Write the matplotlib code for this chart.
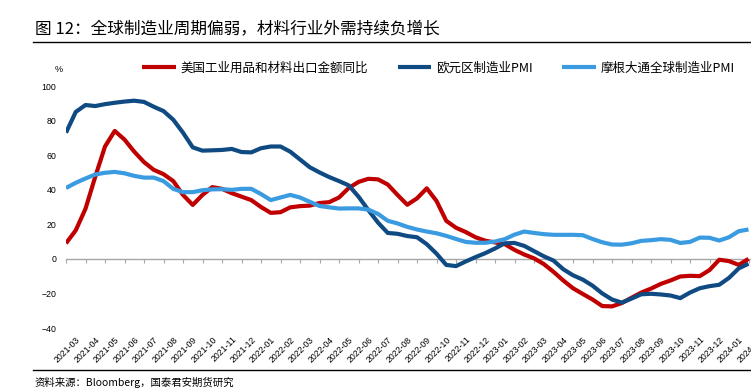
import numpy as np
import pandas as pd
import matplotlib
matplotlib.use("Agg")
import matplotlib.pyplot as plt
from matplotlib.lines import Line2D

plt.rcParams['font.family'] = ['Noto Sans CJK SC', 'DejaVu Sans']

months = [str(p) for p in pd.period_range('2021-03', '2024-02', freq='M')]

# readings every half month, from the start of 2021-03
us_export = [9, 16.5, 29, 47.5, 65, 74, 69, 62, 56, 51.5,
             49, 45, 37, 31.2, 37, 41.5, 40.5, 38, 36, 34,
             30, 26.6, 27, 29.8, 30.5, 30.8, 32.3, 32.8, 35.5, 41,
             44.5, 46.3, 46, 43, 37, 31.3, 35, 40.8, 33.5, 22,
             18, 15.5, 12.5, 10.5, 9.5, 8.5, 5.2, 2.5, 0.3, -3,
             -7.5, -12.5, -17, -20.3, -23.5, -27.3, -27.5, -25.6, -22.5, -19.5,
             -17.2, -14.5, -12.5, -10.2, -9.8, -10, -6.5, -0.5, -1.3, -3.5,
             0]
ez_pmi = [73, 85, 89, 88.4, 89.5, 90.3, 91, 91.5, 90.8, 88,
          85.5, 80.5, 73, 64.5, 62.6, 62.8, 63, 63.6, 61.8, 61.6,
          64, 65, 65, 62, 57.5, 53, 50, 47.3, 45, 42.5,
          36, 28.3, 21, 15, 14.5, 13.2, 12.5, 8.5, 3, -3.5,
          -4.2, -1.5, 1, 3.3, 6, 9, 9.2, 7.5, 4.5, 1.5,
          -1, -6, -9.5, -12, -15.5, -20, -23.5, -25.3, -23, -20.5,
          -20.2, -20.6, -21.2, -22.7, -19.5, -17, -15.8, -15, -11, -5.5,
          -2.8]
jpm_pmi = [41, 44, 46.5, 48.8, 49.8, 50.3, 49.5, 48, 47, 47,
           45, 40.5, 38.6, 38.6, 39.7, 40.2, 40.3, 39.9, 40.5, 40.5,
           37.5, 34, 35.5, 37, 35.5, 33, 30.6, 29.8, 29.1, 29.2,
           29.2, 28.5, 26, 22, 20.5, 18.5, 17, 15.8, 14.8, 13.3,
           11.5, 9.8, 9.3, 9.3, 10, 11.4, 14, 15.8, 15, 14.3,
           13.9, 13.9, 13.9, 13.7, 11.5, 9.6, 8.3, 8.2, 9, 10.4,
           10.8, 11.4, 11, 9.2, 9.8, 12.3, 12.2, 10.6, 12.5, 16,
           17]

names = ['美国工业用品和材料出口金额同比', '欧元区制造业PMI', '摩根大通全球制造业PMI']
colors = ['#C00000', '#0F4A82', '#3A9BE0']

W, H = 751, 390
fig = plt.figure(figsize=(W / 100, H / 100), dpi=100)


def box(x0, y0, x1, y1):
    return [x0 / W, 1 - y1 / H, (x1 - x0) / W, (y1 - y0) / H]


ax = fig.add_axes(box(66, 86, 768, 328))
t = np.arange(len(ez_pmi)) * 0.5
for ser, name, c in zip([us_export, ez_pmi, jpm_pmi], names, colors):
    ax.plot(t, ser, color=c, lw=3, label=name, solid_joinstyle='round', solid_capstyle='butt')

ax.set_xlim(0, len(months))
ax.set_ylim(-40, 100)
ax.set_yticks(range(-40, 101, 20))
for s in ax.spines.values():
    s.set_visible(False)
ax.tick_params(axis='y', length=0, pad=7, labelsize=6.3, labelfontfamily='Liberation Sans')
ax.set_xticks(np.arange(len(months)) + 0.5)
ax.set_xticklabels(months, rotation=45, ha='right', va='top', rotation_mode='anchor',
                   fontsize=6.3, family='Liberation Sans')
ax.tick_params(axis='x', length=0, pad=5)

# zero line with month ticks
zero = ax.secondary_xaxis(40 / 140)
zero.set_xticks(np.arange(len(months) + 1))
zero.tick_params(direction='out', length=3, color='#A6A6A6', labelbottom=False)
zero.spines['bottom'].set_color('#A6A6A6')
zero.spines['bottom'].set_linewidth(1)

ax.legend(ncol=3, loc='center left', bbox_to_anchor=(142 / W, 1 - 68 / H),
          bbox_transform=fig.transFigure, frameon=False, fontsize=9,
          handlelength=2.7, handletextpad=0.35, columnspacing=2.4,
          borderpad=0, borderaxespad=0)

fig.text(59 / W, 1 - 69 / H, '%', fontsize=6.5, ha='center', va='center', family='Liberation Sans')
fig.text(35 / W, 1 - 30 / H, '图 12：全球制造业周期偏弱，材料行业外需持续负增长',
         fontsize=12, va='center')
fig.add_artist(Line2D([33 / W, 1], [1 - 42 / H] * 2, color='black', lw=1))
fig.add_artist(Line2D([33 / W, 1], [1 - 370 / H] * 2, color='black', lw=1))
fig.text(35 / W, 1 - 382 / H, '资料来源：Bloomberg，国泰君安期货研究', fontsize=7.5, va='center')

fig.savefig('out.png', dpi=100)
